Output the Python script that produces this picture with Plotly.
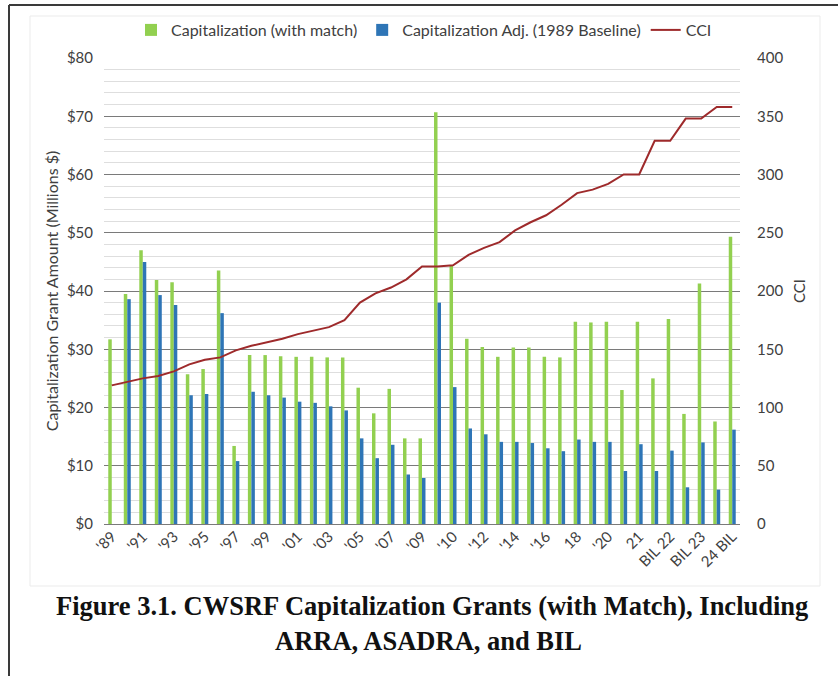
import plotly.graph_objects as go

# ---- data ----
categories = ["'89", "'90", "'91", "'92", "'93", "'94", "'95", "'96", "'97", "'98",
              "'99", "'00", "'01", "'02", "'03", "'04", "'05", "'06", "'07", "'08",
              "'09", "ARRA", "'10", "'11", "'12", "'13", "'14", "'15", "'16", "'17",
              "18", "'19", "'20", "ASADRA", "21", "22", "BIL 22", "23", "BIL 23", "24", "24 BIL"]

cap_with_match = [31.7, 39.5, 47.0, 41.9, 41.5, 25.7, 26.6, 43.5, 13.4, 29.0,
                  29.0, 28.8, 28.7, 28.7, 28.6, 28.6, 23.4, 19.0, 23.2, 14.7,
                  14.7, 70.7, 44.4, 31.8, 30.4, 28.7, 30.3, 30.3, 28.7, 28.6,
                  34.7, 34.6, 34.7, 23.0, 34.7, 25.0, 35.2, 18.9, 41.3, 17.6, 49.3]

cap_adj_1989 = [None, 38.6, 45.0, 39.3, 37.6, 22.1, 22.3, 36.2, 10.8, 22.7,
                22.1, 21.7, 21.0, 20.8, 20.2, 19.5, 14.7, 11.3, 13.6, 8.5,
                7.9, 38.0, 23.5, 16.4, 15.4, 14.1, 14.1, 13.9, 13.0, 12.5,
                14.5, 14.1, 14.1, 9.1, 13.7, 9.1, 12.6, 6.3, 14.0, 5.9, 16.2]

cci = [119, 122, 125, 127, 131, 137, 141, 143, 149, 153,
       156, 159, 163, 166, 169, 175, 190, 198, 203, 210,
       221, 221, 222, 231, 237, 242, 252, 259, 265, 274,
       284, 287, 292, 300, 300, 329, 329, 348, 348, 358, 358]

shown_ticks = categories[::2]

GREEN = "#92D050"
BLUE = "#2E75B6"
RED = "#9E2A2B"
TXT = "#404040"
FONT = "Lato"

fig = go.Figure()
fig.add_trace(go.Bar(x=categories, y=cap_with_match, name="Capitalization (with match)",
                     marker=dict(color=GREEN, line=dict(width=0))))
fig.add_trace(go.Bar(x=categories, y=cap_adj_1989, name="Capitalization Adj. (1989 Baseline)",
                     marker=dict(color=BLUE, line=dict(width=0))))
fig.add_trace(go.Scatter(x=categories, y=cci, name="CCI", mode="lines",
                         line=dict(color=RED, width=2), yaxis="y2"))

# plot area in pixels
L, R, T, B = 104, 740, 58, 524
W, H = 838, 676
pw, ph = R - L, B - T

def px(x):
    return (x - L) / pw

def py(y):
    return (B - y) / ph

shapes = [
    dict(type="rect", xref="paper", yref="paper", x0=px(30), x1=px(820), y0=py(586), y1=py(16),
         line=dict(color="#ebebeb", width=1), layer="below"),
    dict(type="line", xref="paper", yref="paper", x0=px(9), x1=px(9), y0=py(5), y1=py(680),
         line=dict(color="#3a3a3a", width=2)),
    dict(type="line", xref="paper", yref="paper", x0=px(9), x1=px(842), y0=py(5), y1=py(5),
         line=dict(color="#3a3a3a", width=2)),
]

annotations = [
    dict(text="<b>Figure 3.1. CWSRF Capitalization Grants (with Match), Including</b>",
         xref="paper", yref="paper", x=px(432), y=py(606), showarrow=False,
         font=dict(family="Liberation Serif", size=26.5, color="#111111"), xanchor="center", yanchor="middle"),
    dict(text="<b>ARRA, ASADRA, and BIL</b>",
         xref="paper", yref="paper", x=px(428), y=py(641), showarrow=False,
         font=dict(family="Liberation Serif", size=26.5, color="#111111"), xanchor="center", yanchor="middle"),
]

fig.update_layout(
    width=W, height=H,
    margin=dict(l=L, r=W - R, t=T, b=H - B, autoexpand=False),
    paper_bgcolor="white", plot_bgcolor="white",
    barmode="group", bargap=0.55, bargroupgap=0,
    font=dict(family=FONT, size=15, color=TXT),
    legend=dict(orientation="h", x=px(424), xanchor="center", y=py(30), yanchor="middle",
                font=dict(family=FONT, size=16, color=TXT),
                itemwidth=30, tracegroupgap=0, bgcolor="rgba(0,0,0,0)"),
    xaxis=dict(type="category", tickmode="array", tickvals=shown_ticks, ticktext=shown_ticks,
               tickangle=-45, showgrid=False, showline=False, ticks="", automargin=False,
               tickfont=dict(family=FONT, size=15, color=TXT)),
    yaxis=dict(range=[0, 80], dtick=10, tickprefix="$", showgrid=True, gridcolor="#7a7a7a",
               gridwidth=1.3, zeroline=True, zerolinecolor="#7a7a7a", zerolinewidth=1.3,
               automargin=False, ticklabelstandoff=10,
               minor=dict(dtick=2, showgrid=True, gridcolor="#dedede", gridwidth=1),
               tickfont=dict(family=FONT, size=15, color=TXT),
               title=dict(text="Capitalization Grant Amount (Millions $)",
                          font=dict(family=FONT, size=16, color=TXT), standoff=4)),
    yaxis2=dict(range=[0, 400], dtick=50, overlaying="y", side="right", showgrid=False,
                zeroline=False, automargin=False, ticklabelstandoff=16,
                tickfont=dict(family=FONT, size=15, color=TXT),
                title=dict(text="CCI", font=dict(family=FONT, size=15, color=TXT), standoff=12)),
    shapes=shapes, annotations=annotations,
)

fig.write_html("out.html", config={"displayModeBar": False},
               post_script="document.body.style.margin='0';")
